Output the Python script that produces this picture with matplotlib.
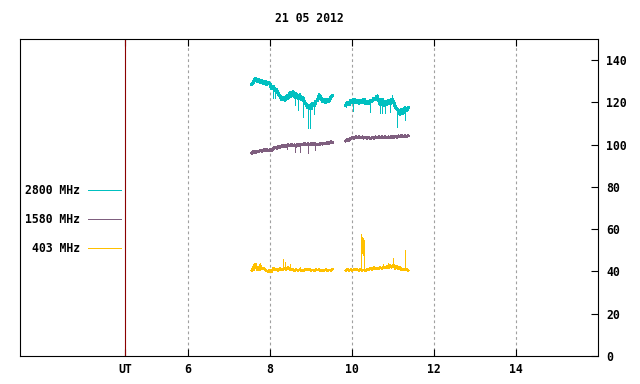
import numpy as np
import matplotlib
matplotlib.use("Agg")
import matplotlib.pyplot as plt

# ---------------- data ----------------
title = "21 05 2012"
series_names = ["2800 MHz", "1580 MHz", "403 MHz"]
series_colors = ["#00c0c0", "#7f5f7f", "#ffc000"]

# time grids (hours UT) of the two observing segments
t_seg1 = np.linspace(7.56, 9.52, 50)
t_seg2 = np.linspace(9.85, 11.37, 39)

# 2800 MHz
f2800_seg1 = [128.5, 130, 131.5, 130, 131, 129.5, 130.5, 129, 130, 128.5,
              129.5, 128.5, 126.5, 127.5, 125.5, 126, 124, 123, 121.5, 122.5,
              121, 123, 122, 124.5, 123, 125, 122.5, 124, 122, 123.5,
              121.5, 122.5, 120, 119, 117.5, 118.5, 117, 119.5, 118.5, 120.5,
              121, 123.5, 122, 120.5, 121.5, 120, 121.5, 120.5, 122.5, 123]
f2800_seg2 = [118.5, 120, 119, 121, 120, 121.5, 120, 121, 119.5, 121,
              120, 121.5, 119.5, 120.5, 119.5, 121, 120.5, 122, 121.5, 123,
              121, 119, 121.5, 118.5, 120.5, 119, 121, 119.5, 121.5, 120.5,
              118, 117, 116, 114.5, 116.5, 115, 117.5, 116, 117.5]
f2800_spk_t = [8.08, 8.12, 8.61, 8.67, 8.81, 8.93, 8.97, 9.07,
               10.03, 10.44, 10.60, 10.68, 10.74, 10.80, 10.93, 10.97, 11.10, 11.29]
f2800_spk_lo = [121.9, 121.9, 118.7, 116.4, 113.2, 107.7, 107.7, 114.7,
                116.0, 115.6, 121.0, 114.8, 114.8, 114.8, 115.6, 120.0, 108.4, 111.6]
f2800_spk_hi = [127.0, 126.5, 124.5, 123.0, 122.5, 119.0, 119.5, 120.0,
                121.0, 121.0, 124.2, 121.0, 121.0, 120.5, 121.0, 123.5, 117.5, 117.0]

# 1580 MHz
f1580_seg1 = [96.0, 96.8, 96.2, 97.0, 96.5, 97.3, 96.8, 97.6, 97.1, 97.8,
              97.3, 97.6, 97.0, 98.2, 98.8, 98.3, 99.2, 98.7, 99.5, 99.0,
              99.8, 99.2, 100.0, 99.5, 100.1, 99.4, 99.9, 99.3, 100.2, 99.6,
              100.3, 99.8, 100.5, 99.9, 100.4, 100.0, 100.6, 100.1, 100.5, 100.0,
              100.4, 100.0, 100.6, 100.2, 100.8, 100.3, 101.0, 100.6, 101.4, 101.0]
f1580_seg2 = [101.8, 102.5, 102.0, 103.0, 103.5, 103.0, 103.8, 103.2, 103.9, 103.3,
              103.7, 103.1, 103.6, 103.0, 103.5, 102.9, 103.4, 103.0, 103.7, 103.2,
              103.8, 103.3, 103.9, 103.4, 103.8, 103.2, 103.7, 103.3, 103.9, 103.4,
              104.0, 103.5, 104.2, 103.7, 104.4, 103.8, 104.3, 103.9, 104.2]
f1580_spk_t = [8.41, 8.61, 8.73, 8.93, 9.10]
f1580_spk_lo = [97.9, 96.6, 96.6, 95.9, 97.4]
f1580_spk_hi = [99.5, 100.0, 100.2, 100.3, 100.3]

# 403 MHz
f403_seg1 = [40.5, 42.0, 43.5, 41.0, 40.8, 43.0, 41.2, 41.5, 40.8, 40.3,
             39.9, 40.8, 39.8, 41.6, 40.6, 41.0, 40.5, 41.4, 40.7, 41.2,
             41.6, 41.0, 41.8, 41.2, 40.6, 40.9, 40.4, 40.9, 40.5, 40.9,
             40.4, 40.8, 40.5, 41.2, 40.6, 41.0, 40.5, 40.8, 40.4, 40.9,
             40.6, 41.0, 40.3, 40.8, 40.5, 40.9, 40.4, 40.8, 40.5, 41.0]
f403_seg2 = [40.5, 41.0, 40.4, 40.9, 40.5, 41.0, 40.6, 40.9, 40.4, 41.0,
             40.5, 40.8, 40.3, 41.0, 40.8, 41.5, 41.0, 41.8, 41.2, 41.6,
             41.1, 41.9, 41.3, 42.2, 41.6, 42.5, 41.8, 42.8, 42.0, 43.0,
             41.5, 42.5, 41.2, 41.8, 40.8, 41.2, 40.6, 41.0, 40.5]
f403_spk_t = [7.62, 7.66, 7.76, 8.32, 8.37, 8.49, 8.73, 9.17,
              10.23, 10.245, 10.26, 10.275, 10.29, 10.30, 10.75, 10.88, 10.99, 11.29]
f403_spk_lo = [40.5, 40.5, 40.8, 40.6, 40.6, 40.8, 40.8, 40.8,
               41.0, 48.6, 48.0, 49.0, 48.5, 41.0, 41.5, 42.0, 42.0, 41.0]
f403_spk_hi = [43.9, 43.9, 43.9, 45.9, 44.6, 43.4, 42.2, 41.8,
               57.6, 56.5, 55.7, 55.7, 55.0, 53.8, 43.5, 44.0, 46.2, 50.1]

xticks = [6, 8, 10, 12, 14]
ut_pos = 4.46
yticks = [0, 20, 40, 60, 80, 100, 120, 140]

# ---------------- plot ----------------
font = ["DejaVu Sans Mono"]
fs = 8.3
fig = plt.figure(figsize=(6.4, 3.84), dpi=100)
ax = fig.add_axes([20 / 640, 1 - 356 / 384, 578 / 640, 317 / 384])
ax.set_xlim(1.9, 16.0)
ax.set_ylim(0, 150)

for x in xticks:
    ax.axvline(x, color="#a0a0a0", lw=0.8, ls=(0, (2.5, 2.5)), zorder=1)
ax.axvline(ut_pos, color="#8b0000", lw=0.8, zorder=2)

segs = [
    (f2800_seg1, f2800_seg2, f2800_spk_t, f2800_spk_lo, f2800_spk_hi),
    (f1580_seg1, f1580_seg2, f1580_spk_t, f1580_spk_lo, f1580_spk_hi),
    (f403_seg1, f403_seg2, f403_spk_t, f403_spk_lo, f403_spk_hi),
]
data_lw = [1.6, 1.3, 1.1]
for (s1, s2, st, slo, shi), col, lw in zip(segs, series_colors, data_lw):
    ax.plot(t_seg1, s1, color=col, lw=lw, antialiased=False, zorder=3)
    ax.plot(t_seg2, s2, color=col, lw=lw, antialiased=False, zorder=3)
    ax.vlines(st, slo, shi, color=col, lw=0.6, antialiased=False, zorder=3)

# legend (left panel)
leg_y = [78.5, 64.8, 51.1]
for name, col, y in zip(series_names, series_colors, leg_y):
    ax.text(3.37, y, name, ha="right", va="center", family=font,
            fontweight="bold", fontsize=fs)
    ax.plot([3.56, 4.36], [y, y], color=col, lw=0.6, antialiased=False)

ax.set_xticks([ut_pos] + xticks)
ax.set_xticklabels(["UT"] + [str(x) for x in xticks], family=font,
                   fontweight="bold", fontsize=fs)
ax.tick_params(axis="x", direction="in", length=5, top=True, bottom=True,
               pad=5, width=0.8)
ax.yaxis.tick_right()
ax.set_yticks(yticks)
ax.set_yticklabels([str(y) for y in yticks], family=font,
                   fontweight="bold", fontsize=fs)
ax.tick_params(axis="y", direction="in", length=5, right=True, left=False,
               pad=6, width=0.8)
for sp in ax.spines.values():
    sp.set_linewidth(0.8)
    sp.set_color("black")

fig.text(309 / 640, 1 - 18 / 384, title, ha="center", va="center",
         family=font, fontweight="bold", fontsize=fs)

fig.savefig("out.png", dpi=100)
